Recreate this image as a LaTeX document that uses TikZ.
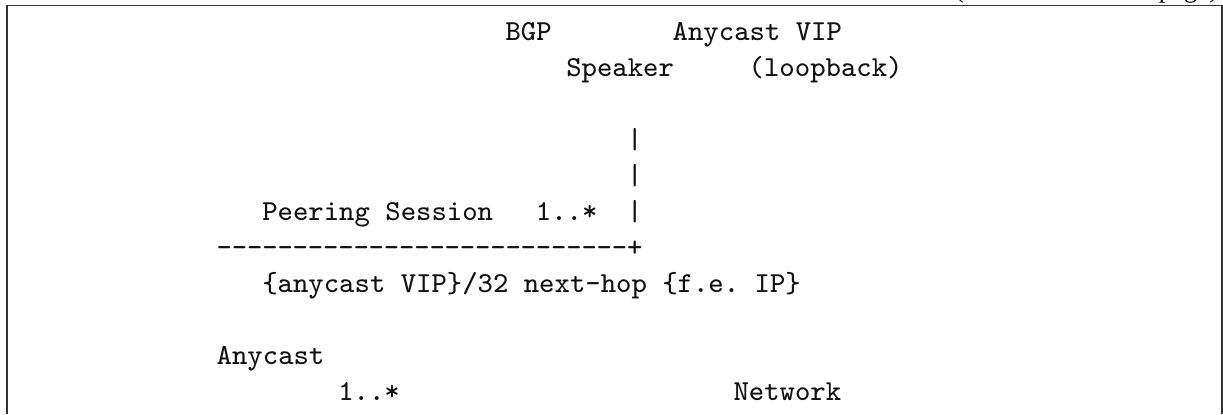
\documentclass[tikz,border=0pt]{standalone}
\usepackage{fontspec}
\newfontfamily\contfont{Liberation Serif}
\usetikzlibrary{positioning}
\definecolor{vb-text}{HTML}{111111}
\definecolor{vb-frame}{HTML}{333333}
\newcommand{\codefont}{\fontsize{8.24}{10}\selectfont\ttfamily\frenchspacing}

\begin{document}
\begin{tikzpicture}[x=0.01cm, y=-0.01cm,
    code/.style={font=\codefont, anchor=base west, inner sep=0pt, text=vb-text}]
    \useasboundingbox (0,0) rectangle (1223,414);
    % frame of the block
    \draw[vb-frame, line width=0.5pt] (7,414) -- (7,5.5) -- (1222.3,5.5) -- (1222.3,414);
    \node[font=\fontsize{7.6}{9}\selectfont\contfont, anchor=base east, inner sep=0pt] (cont) at (1219,-3) {(continues on next page)};
    % speaker and loopback
    \node[code] (bgp) at ({216+15.2*19},40) {BGP};
    \node[code] (vip) at ({216+15.2*30},40) {Anycast VIP};
    \node[code] (speaker) at ({216+15.2*23},76) {Speaker};
    \node[code] (loop) at ({216+15.2*35},76) {(loopback)};
    % peering session
    \foreach \r/\y in {1/148,2/184,3/220}
        \node[code] (bar\r) at ({216+15.2*27},\y) {|};
    \node[code] (peer) at ({216+15.2*3},220) {Peering Session};
    \node[code] (mult) at ({216+15.2*21},220) {1..*};
    \foreach \c in {0,...,26}
        \node[code] (dash\c) at ({216+15.2*\c},256) {-};
    \node[code] (corner) at ({216+15.2*27},256) {+};
    \node[code] (route) at ({216+15.2*3},292) {\{anycast VIP\}/32 next-hop \{f.e. IP\}};
    % network
    \node[code] (anycast) at (216,364) {Anycast};
    \node[code] (netmult) at ({216+15.2*8},400) {1..*};
    \node[code] (net) at ({216+15.2*34},400) {Network};
\end{tikzpicture}
\end{document}
